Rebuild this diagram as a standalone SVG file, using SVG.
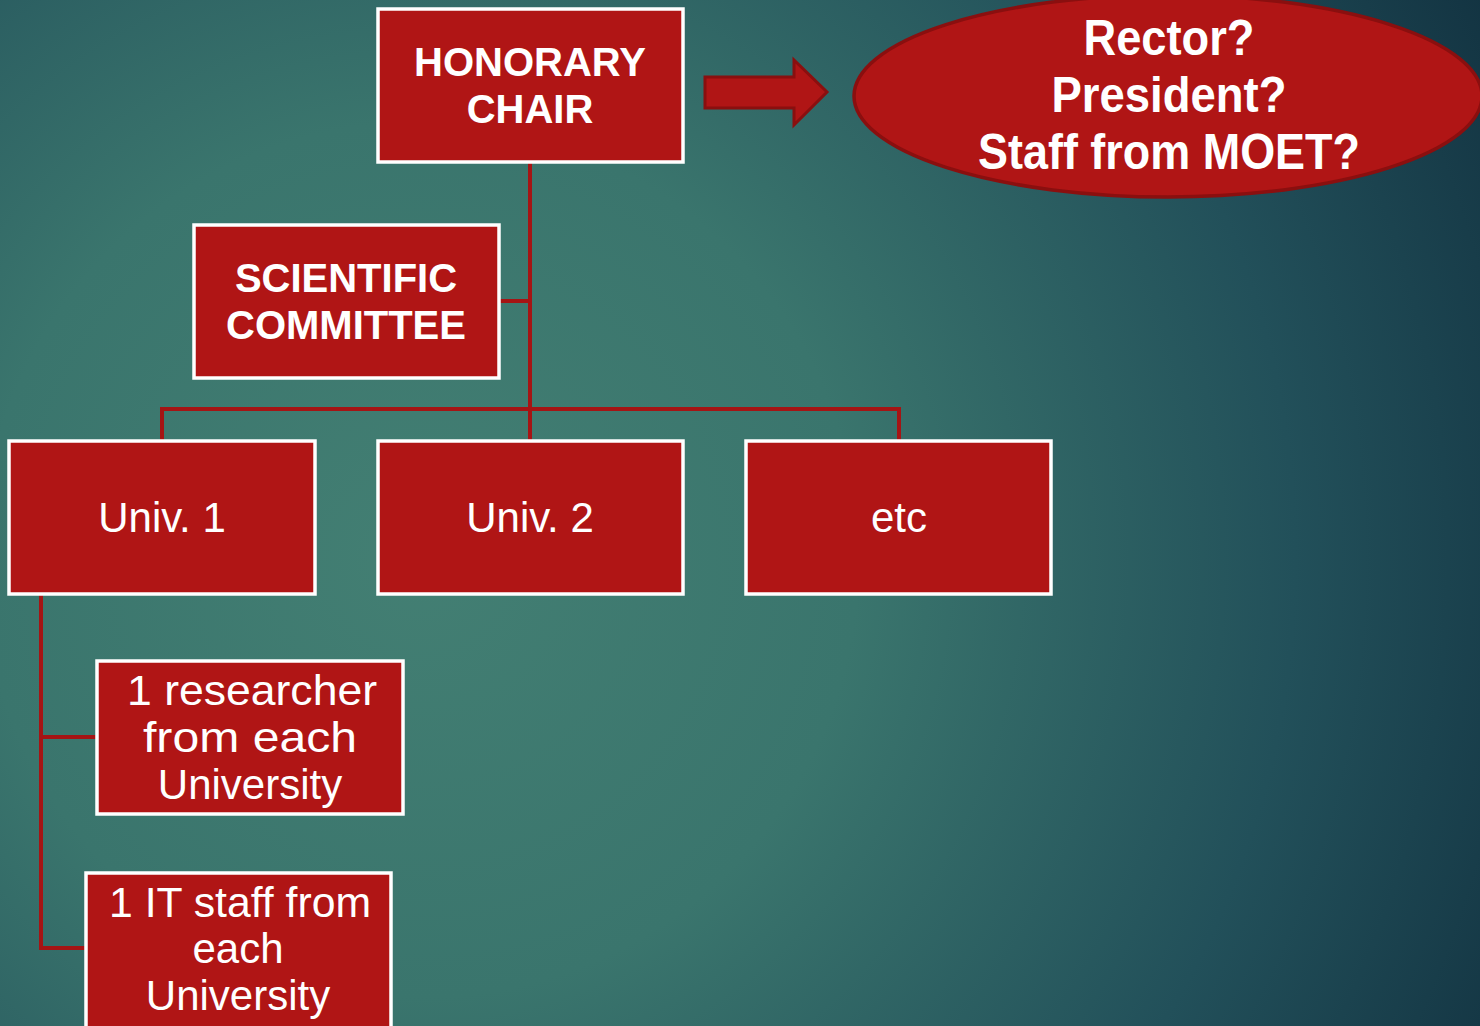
<svg xmlns="http://www.w3.org/2000/svg" width="1480" height="1026" viewBox="0 0 1480 1026">
<defs>
<radialGradient id="bg" cx="420" cy="560" r="1250" gradientUnits="userSpaceOnUse">
<stop offset="0" stop-color="#437f73"/>
<stop offset="0.35" stop-color="#3a756d"/>
<stop offset="0.7" stop-color="#22505a"/>
<stop offset="1" stop-color="#11303f"/>
</radialGradient>
<style>
.box{fill:#b01515;stroke:#ffffff;stroke-width:3.5}
.hd{font-family:"Liberation Sans",Arial,sans-serif;font-weight:bold;font-size:40px;fill:#ffffff;text-anchor:middle}
.tx{font-family:"Liberation Sans",Arial,sans-serif;font-size:42px;fill:#ffffff;text-anchor:middle}
.el{font-family:"Liberation Sans",Arial,sans-serif;font-weight:bold;font-size:50px;fill:#ffffff;text-anchor:middle}
.cn{fill:none;stroke:#a51414;stroke-width:4}
</style>
</defs>
<rect width="1480" height="1026" fill="url(#bg)"/>
<g id="connectors">
<path class="cn" d="M530 162 V441"/>
<path class="cn" d="M499 301 H530"/>
<path class="cn" d="M162 441 V409 H899 V441"/>
<path class="cn" d="M41 594 V948 H86"/>
<path class="cn" d="M41 737 H97"/>
<path d="M705 77 H794 V60 L827 92 L794 125 V108 H705 Z" fill="#b01515" stroke="#8a0f0f" stroke-width="3"/>
</g>
<g id="honorary">
<rect class="box" x="378" y="9" width="305" height="153"/>
<text class="hd" x="530" y="76">HONORARY</text>
<text class="hd" x="530" y="123">CHAIR</text>
</g>
<g id="ellipse">
<ellipse cx="1168" cy="96" rx="314" ry="101" fill="#b01515" stroke="#8a0f0f" stroke-width="3.5"/>
<text class="el" x="1169" y="55" textLength="171" lengthAdjust="spacingAndGlyphs">Rector?</text>
<text class="el" x="1169" y="112" textLength="235" lengthAdjust="spacingAndGlyphs">President?</text>
<text class="el" x="1169" y="169" textLength="382" lengthAdjust="spacingAndGlyphs">Staff from MOET?</text>
</g>
<g id="scientific">
<rect class="box" x="194" y="225" width="305" height="153"/>
<text class="hd" x="346" y="292">SCIENTIFIC</text>
<text class="hd" x="346" y="339">COMMITTEE</text>
</g>
<g id="univ1">
<rect class="box" x="9" y="441" width="306" height="153"/>
<text class="tx" x="162" y="532">Univ. 1</text>
</g>
<g id="univ2">
<rect class="box" x="378" y="441" width="305" height="153"/>
<text class="tx" x="530" y="532">Univ. 2</text>
</g>
<g id="etc">
<rect class="box" x="746" y="441" width="305" height="153"/>
<text class="tx" x="899" y="532">etc</text>
</g>
<g id="researcher">
<rect class="box" x="97" y="661" width="306" height="153"/>
<text class="tx" x="252" y="705" textLength="250" lengthAdjust="spacingAndGlyphs">1 researcher</text>
<text class="tx" x="250" y="752" textLength="214" lengthAdjust="spacingAndGlyphs">from each</text>
<text class="tx" x="250" y="799">University</text>
</g>
<g id="itstaff">
<rect class="box" x="86" y="873" width="305" height="160"/>
<text class="tx" x="240" y="917" textLength="262" lengthAdjust="spacingAndGlyphs">1 IT staff from</text>
<text class="tx" x="238" y="963">each</text>
<text class="tx" x="238" y="1010">University</text>
</g>
</svg>
